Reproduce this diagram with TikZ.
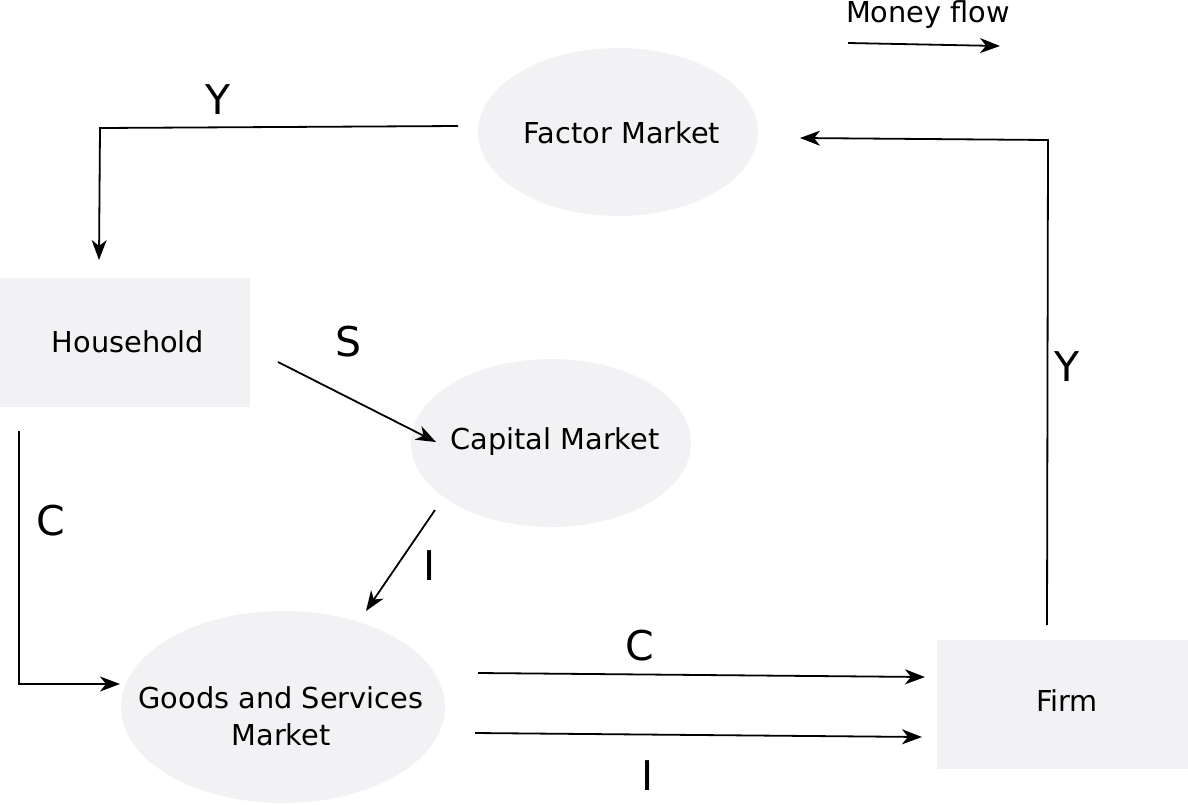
\documentclass[tikz,border=0pt]{standalone}
\usepackage{fontspec}
\setmainfont{DejaVu Sans}
\usetikzlibrary{shapes.geometric,arrows.meta}
\definecolor{boxfill}{HTML}{F2F2F4}
\tikzset{
  mkt/.style={ellipse,fill=boxfill,draw=none,inner sep=0pt},
  agent/.style={rectangle,fill=boxfill,draw=none,inner sep=0pt},
  txt/.style={inner sep=0pt,align=center,font=\fontsize{14.4}{18.5}\selectfont},
  flow/.style={line width=0.9pt,-{Stealth[length=10pt,width=7.5pt,inset=3pt]}},
  lbl/.style={font=\fontsize{20.5}{24}\selectfont,inner sep=0pt},
  small/.style={font=\fontsize{14.4}{18}\selectfont,inner sep=0pt}
}
\begin{document}
\begin{tikzpicture}[x=0.5pt,y=-0.5pt]
\useasboundingbox (0,0) rectangle (1188,804);
% shapes
\node[mkt,minimum width=140pt,minimum height=84pt] (factor) at (618,132) {};
\node[mkt,minimum width=140pt,minimum height=84pt] (capital) at (551,443) {};
\node[mkt,minimum width=162pt,minimum height=96pt] (goods) at (283,707) {};
\node[agent,minimum width=125pt,minimum height=64.5pt] (house) at (125,342.5) {};
\node[agent,minimum width=125.5pt,minimum height=64.5pt] (firm) at (1062.5,704.5) {};
% texts
\node[txt] (tfactor) at (622,133) {Factor Market};
\node[txt] (tcapital) at (555,442) {Capital Market};
\node[txt] (tgoods) at (281,716) {Goods and Services\\Market};
\node[txt] (thouse) at (128,342) {Household};
\node[txt] (tfirm) at (1067,701) {Firm};
% legend
\node[small] (mftext) at (928,15) {Money flow};
\coordinate (mfa) at (848,43);
\coordinate (mfb) at (1000,46);
\draw[flow] (mfa) -- (mfb);
% Y top
\coordinate (y1a) at (458,126);
\coordinate (y1b) at (99,260);
\draw[flow] (y1a) -- (100,128) -- (y1b);
\node[lbl] (ly1) at (218,100) {Y};
% Y right
\coordinate (y2a) at (1047,625);
\coordinate (y2b) at (800,138);
\draw[flow] (y2a) -- (1048,140) -- (y2b);
\node[lbl] (ly2) at (1067,367) {Y};
% S
\coordinate (sa) at (278,362);
\coordinate (sb) at (436,442);
\draw[flow] (sa) -- (sb);
\node[lbl] (ls) at (349,342) {S};
% I (capital -> goods)
\coordinate (ia) at (435,510);
\coordinate (ib) at (366,611);
\draw[flow] (ia) -- (ib);
\node[lbl] (li1) at (430,566) {I};
% C left
\coordinate (ca) at (19,431);
\coordinate (cb) at (120,684);
\draw[flow] (ca) -- (19,684) -- (cb);
\node[lbl] (lc1) at (51,521) {C};
% C bottom
\coordinate (c2a) at (478,673);
\coordinate (c2b) at (925,677);
\draw[flow] (c2a) -- (c2b);
\node[lbl] (lc2) at (640,646) {C};
% I bottom
\coordinate (i2a) at (475,733);
\coordinate (i2b) at (922,737);
\draw[flow] (i2a) -- (i2b);
\node[lbl] (li2) at (648,776) {I};
\end{tikzpicture}
\end{document}
